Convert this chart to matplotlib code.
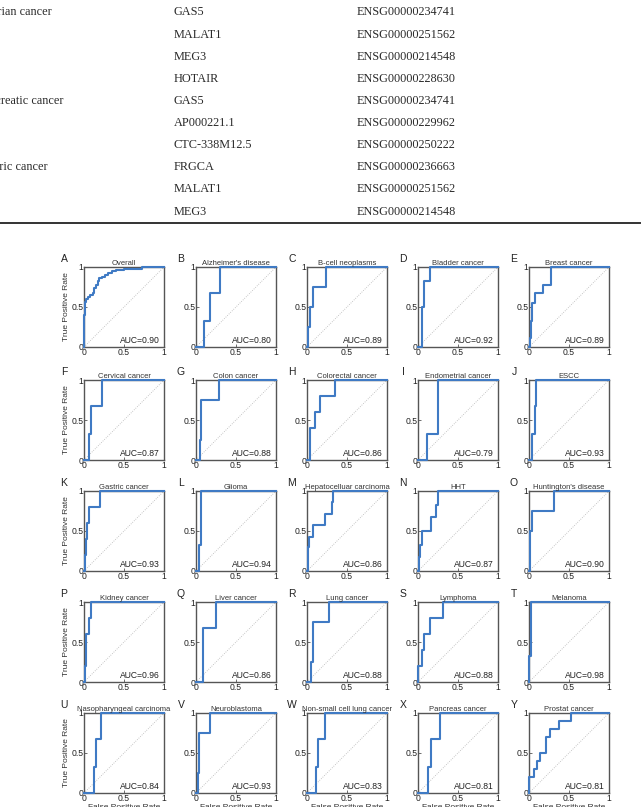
import matplotlib
matplotlib.use("Agg")
import matplotlib.pyplot as plt
from matplotlib.lines import Line2D

W, H = 642, 807

# table at the top (cut off on the left)
tab_disease = ["Ovarian cancer", "", "", "", "Pancreatic cancer", "", "", "Gastric cancer", "", ""]
tab_lncrna = ["GAS5", "MALAT1", "MEG3", "HOTAIR", "GAS5", "AP000221.1", "CTC-338M12.5", "FRGCA", "MALAT1", "MEG3"]
tab_ensg = ["ENSG00000234741", "ENSG00000251562", "ENSG00000214548", "ENSG00000228630",
            "ENSG00000234741", "ENSG00000229962", "ENSG00000250222", "ENSG00000236663",
            "ENSG00000251562", "ENSG00000214548"]

# ROC panels
letters = list("ABCDEFGHIJKLMNOPQRSTUVWXY")
titles = ["Overall", "Alzheimer's disease", "B-cell neoplasms", "Bladder cancer", "Breast cancer",
          "Cervical cancer", "Colon cancer", "Colorectal cancer", "Endometrial cancer", "ESCC",
          "Gastric cancer", "Glioma", "Hepatocelluar carcinoma", "HHT", "Huntington's disease",
          "Kidney cancer", "Liver cancer", "Lung cancer", "Lymphoma", "Melanoma",
          "Nasopharyngeal carcinoma", "Neuroblastoma", "Non-small cell lung cancer",
          "Pancreas cancer", "Prostat cancer"]
aucs = [0.90, 0.80, 0.89, 0.92, 0.89, 0.87, 0.88, 0.86, 0.79, 0.93,
        0.93, 0.94, 0.86, 0.87, 0.90, 0.96, 0.86, 0.88, 0.88, 0.98,
        0.84, 0.93, 0.83, 0.81, 0.81]

# each curve: FPR where the curve steps up, and the TPR it steps up to
step_fpr = [
    [0.0, 0.01, 0.025, 0.05, 0.08, 0.11, 0.13, 0.15, 0.17, 0.19, 0.22, 0.26, 0.3, 0.35, 0.4, 0.5, 0.6, 0.72],
    [0.1, 0.18, 0.3],
    [0.01, 0.04, 0.08, 0.24],
    [0.05, 0.08, 0.145],
    [0.01, 0.03, 0.04, 0.08, 0.17, 0.27],
    [0.066, 0.083, 0.23],
    [0.046, 0.063, 0.286],
    [0.033, 0.1, 0.167, 0.354],
    [0.11, 0.25],
    [0.04, 0.07, 0.09],
    [0.008, 0.03, 0.04, 0.06, 0.2],
    [0.04, 0.06],
    [0.01, 0.03, 0.08, 0.23, 0.31, 0.32],
    [0.01, 0.02, 0.054, 0.167, 0.22, 0.25],
    [0.008, 0.034, 0.31],
    [0.008, 0.02, 0.03, 0.06, 0.09],
    [0.083, 0.09, 0.25],
    [0.05, 0.07, 0.28],
    [0.0, 0.05, 0.07, 0.146, 0.31],
    [0.005, 0.025],
    [0.13, 0.145, 0.21],
    [0.02, 0.034, 0.17],
    [0.117, 0.14, 0.23],
    [0.125, 0.158, 0.27],
    [0.0, 0.058, 0.1, 0.14, 0.21, 0.26, 0.375, 0.53],
]
step_tpr = [
    [0.4, 0.56, 0.6, 0.62, 0.65, 0.68, 0.74, 0.78, 0.82, 0.86, 0.88, 0.9, 0.92, 0.95, 0.96, 0.97, 0.98, 1.0],
    [0.33, 0.67, 1.0],
    [0.25, 0.5, 0.75, 1.0],
    [0.5, 0.83, 1.0],
    [0.11, 0.33, 0.55, 0.67, 0.78, 1.0],
    [0.33, 0.67, 1.0],
    [0.25, 0.75, 1.0],
    [0.4, 0.6, 0.8, 1.0],
    [0.33, 1.0],
    [0.33, 0.67, 1.0],
    [0.2, 0.4, 0.6, 0.8, 1.0],
    [0.33, 1.0],
    [0.3, 0.43, 0.57, 0.71, 0.86, 1.0],
    [0.17, 0.33, 0.5, 0.67, 0.83, 1.0],
    [0.5, 0.75, 1.0],
    [0.2, 0.4, 0.6, 0.8, 1.0],
    [0.33, 0.67, 1.0],
    [0.25, 0.75, 1.0],
    [0.2, 0.4, 0.6, 0.8, 1.0],
    [0.33, 1.0],
    [0.33, 0.67, 1.0],
    [0.25, 0.75, 1.0],
    [0.33, 0.67, 1.0],
    [0.33, 0.67, 1.0],
    [0.2, 0.3, 0.4, 0.5, 0.7, 0.8, 0.9, 1.0],
]

plt.rcParams['font.family'] = ['Liberation Sans', 'DejaVu Sans']
fig = plt.figure(figsize=(W / 100, H / 100), dpi=100)

# --- table
row_y = [12, 34.5, 56.5, 78.5, 100.7, 122.9, 145, 167.2, 189.4, 211.6]
for i in range(len(tab_lncrna)):
    y = 1 - row_y[i] / H
    kw = dict(family=['Liberation Serif', 'DejaVu Serif'], fontsize=8.8, color='#2a2a2a', va='center')
    if tab_disease[i]:
        fig.text(-23 / W, y, tab_disease[i], ha='left', **kw)
    fig.text(174 / W, y, tab_lncrna[i], ha='left', **kw)
    fig.text(357 / W, y, tab_ensg[i], ha='left', **kw)
fig.add_artist(Line2D([0, 640 / W], [1 - 222.5 / H] * 2, color='#333333', lw=1.4))

# --- ROC grid
col_left = [84, 196, 307, 418, 529]
row_top = [267, 380, 491, 602, 713]
size = 80
blue = '#3f7ac4'

for k in range(25):
    r, c = divmod(k, 5)
    left, top = col_left[c], row_top[r]
    ax = fig.add_axes([left / W, 1 - (top + size) / H, size / W, size / H])

    xs, ys = [0.0], [0.0]
    for fx, ty in zip(step_fpr[k], step_tpr[k]):
        xs += [fx, fx]
        ys += [ys[-1], ty]
    xs.append(1.0)
    ys.append(1.0)

    ax.plot([0, 1], [0, 1], ls=':', color='#b5b5b5', lw=0.6)
    ax.plot(xs, ys, color=blue, lw=1.5, zorder=3, clip_on=False)
    ax.set_xlim(0, 1)
    ax.set_ylim(0, 1)
    ax.set_xticks([0, 0.5, 1])
    ax.set_xticklabels(['0', '0.5', '1'])
    ax.set_yticks([0, 0.5, 1])
    ax.set_yticklabels(['0', '0.5', '1'])
    ax.tick_params(direction='in', length=2, width=0.6, pad=0.5, labelsize=6.2,
                   colors='#555555', labelcolor='#222222')
    for s in ax.spines.values():
        s.set_color('#555555')
        s.set_linewidth(1.0)

    ax.set_title(titles[k], fontsize=5.5, color='#333333', pad=1.2)
    ax.text(0.95, 0.085, 'AUC=%.2f' % aucs[k], transform=ax.transAxes,
            ha='right', va='center', fontsize=6.2, color='#222222')
    lx = left - (20 if c == 0 else 15)
    fig.text(lx / W, 1 - (top - 8) / H, letters[k], ha='center', va='center',
             fontsize=7.5, color='#222222')
    if c == 0:
        ax.set_ylabel('True Positive Rate', fontsize=6, color='#333333', labelpad=1)
    if r == 4:
        ax.set_xlabel('False Positive Rate', fontsize=6, color='#333333', labelpad=1)

fig.savefig('out.png', dpi=100)
